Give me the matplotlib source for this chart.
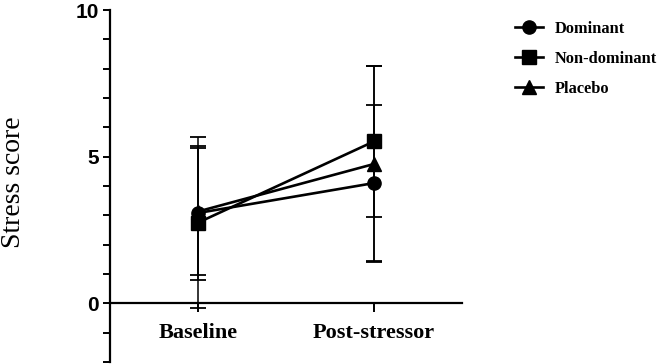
import matplotlib
matplotlib.use("Agg")
import matplotlib.pyplot as plt
from matplotlib.lines import Line2D
from matplotlib.ticker import MultipleLocator

# data (mean +/- SD)
timepoints = ["Baseline", "Post-stressor"]
groups = ["Dominant", "Non-dominant", "Placebo"]
dominant_mean = [3.08, 4.10]
dominant_sd = [2.30, 2.66]
nondominant_mean = [2.75, 5.52]
nondominant_sd = [2.92, 2.56]
placebo_mean = [3.13, 4.75]
placebo_sd = [2.18, 3.33]

means = [dominant_mean, nondominant_mean, placebo_mean]
sds = [dominant_sd, nondominant_sd, placebo_sd]
markers = ["o", "s", "^"]

fig = plt.figure(figsize=(6.61, 3.64), dpi=100)
ax = fig.add_axes([0.1664, 0.0055, 0.5325, 0.967])

x = list(range(len(timepoints)))
handles = []
for name, m, s, mk in zip(groups, means, sds, markers):
    ax.errorbar(x, m, yerr=s, fmt="-", marker=mk, color="black",
                markersize=9.5, linewidth=1.9, elinewidth=1.1,
                capsize=5.8, capthick=1.3)
    handles.append(Line2D([], [], color="black", marker=mk, markersize=9.5,
                          linewidth=1.9, label=name))

ax.spines["top"].set_visible(False)
ax.spines["right"].set_visible(False)
ax.spines["bottom"].set_position(("data", 0))
ax.spines["left"].set_linewidth(1.6)
ax.spines["bottom"].set_linewidth(1.6)

ax.set_xlim(-0.5, 1.5)
ax.set_ylim(-2, 10)
ax.set_xticks(x)
ax.set_xticklabels(timepoints, fontfamily="Liberation Serif",
                   fontweight="bold", fontsize=16)
ax.yaxis.set_major_locator(MultipleLocator(5))
ax.yaxis.set_minor_locator(MultipleLocator(1))
ax.set_yticks([0, 5, 10])
ax.set_yticklabels(["0", "5", "10"], fontfamily="Liberation Sans",
                   fontweight="bold", fontsize=15)
ax.tick_params(axis="y", which="major", length=5, width=1.4, pad=3)
ax.tick_params(axis="y", which="minor", length=5, width=1.4)
ax.tick_params(axis="x", which="major", length=6.5, width=1.4, pad=7.5)

fig.text(0.02, 0.5, "Stress score", rotation=90, va="center", ha="center",
         fontfamily="Liberation Serif", fontsize=20)

ax.legend(handles=handles, loc="upper left",
          bbox_to_anchor=(515 / 661, (364 - 21) / 364),
          bbox_transform=fig.transFigure, frameon=False, borderpad=0,
          borderaxespad=0, handlelength=1.7, handletextpad=0.75,
          labelspacing=0.85,
          prop={"family": "Liberation Serif", "weight": "bold", "size": 11.8})

fig.savefig("out.png", dpi=100)
